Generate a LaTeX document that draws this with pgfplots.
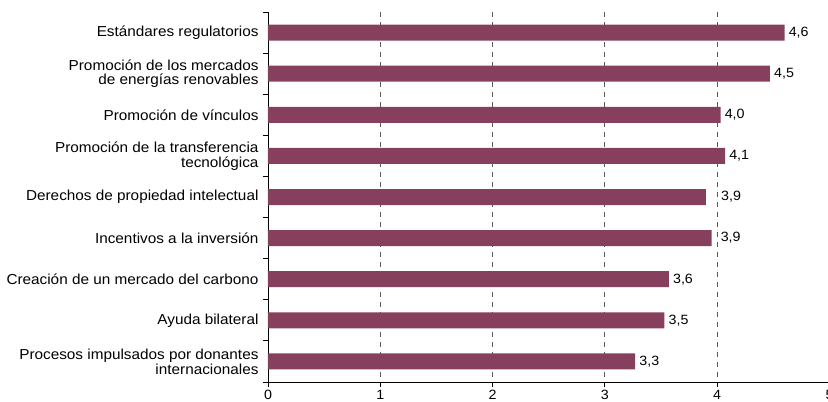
\documentclass[border=0pt]{standalone}
\usepackage{fontspec}
\setmainfont{Liberation Sans}[FakeStretch=1.06]
\usepackage{pgfplots}
\pgfplotsset{compat=1.18}
\usepackage{pgfplotstable}
\definecolor{barc}{HTML}{86405E}
\pgfplotstableread{
y x lab dx
1 4.60 4,6 4
2 4.47 4,5 4
3 4.03 4,0 4
4 4.07 4,1 4
5 3.90 3,9 15
6 3.95 3,9 9
7 3.57 3,6 4
8 3.53 3,5 4
9 3.27 3,3 4
}\datatab
\begin{document}
\begin{tikzpicture}
\begin{axis}[
  name=ax,
  at={(0,0)}, anchor=south west, scale only axis,
  width=561.5bp, height=370bp,
  xmin=0, xmax=5, ymin=0.5, ymax=9.5, y dir=reverse,
  xbar, bar width=16bp,
  axis x line*=bottom, axis y line*=left,
  axis line style={line width=0.8pt},
  tick align=outside, major tick length=5bp,
  tick style={black, line width=0.8pt},
  xtick={0,1,2,3,4,5},
  ytick={0.5,1.5,...,9.5}, yticklabels={},
  extra y ticks={1,2,3,4,5,6,7,8,9},
  extra y tick labels={Estándares regulatorios,{Promoción de los mercados\\de energías renovables},Promoción de vínculos,{Promoción de la transferencia\\tecnológica},Derechos de propiedad intelectual,Incentivos a la inversión,Creación de un mercado del carbono,Ayuda bilateral,{Procesos impulsados por donantes\\internacionales}},
  extra y tick style={major tick length=0pt, grid=none},
  yticklabel style={align=right, font=\fontsize{14.5}{15}\selectfont, xshift=-6bp},
  xticklabel style={font=\fontsize{13.5}{15}\selectfont},
  /pgf/number format/assume math mode=true,
  xmajorgrids,
  major x grid style={dash pattern=on 5bp off 5bp, gray!70!black, line width=0.8pt},
  point meta=explicit symbolic,
  visualization depends on={\thisrow{dx} \as \dx},
  nodes near coords,
  nodes near coords style={font=\fontsize{13.5}{15}\selectfont, anchor=west, inner sep=0bp, xshift=\dx bp},
]
\addplot[fill=barc, draw=none] table[x=x, y=y, meta=lab] {\datatab};
\end{axis}
\pgfresetboundingbox
\useasboundingbox ([shift={(-268bp,-20bp)}]ax.south west) rectangle ([shift={(560bp,382bp)}]ax.south west);
\end{tikzpicture}
\end{document}
